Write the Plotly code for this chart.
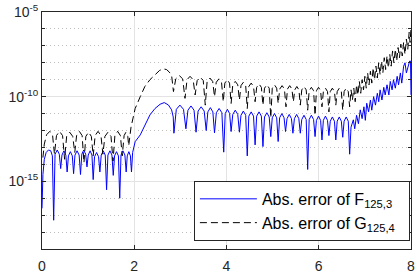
import plotly.graph_objects as go

# Abs. error of F_{125,3}: (x, log10(error))
blue_points = [
    (0.00, -16.6), (0.02, -14.6), (0.05, -13.7), (0.09, -13.3), (0.14, -13.15), (0.19, -13.2), (0.225, -13.5), (0.253, -17.3),
    (0.283, -13.4), (0.33, -13.15), (0.375, -13.4), (0.405, -14.25),
    (0.433, -13.45), (0.475, -13.2), (0.517, -13.45), (0.545, -14.45),
    (0.573, -13.5), (0.615, -13.25), (0.657, -13.5), (0.685, -14.55),
    (0.715, -13.45), (0.76, -13.2), (0.805, -13.45), (0.835, -14.6),
    (0.863, -13.4), (0.905, -13.15), (0.947, -13.4), (0.975, -14.15),
    (1.002, -13.45), (1.043, -13.2), (1.083, -13.45), (1.11, -14.9),
    (1.139, -13.55), (1.183, -13.3), (1.226, -13.55), (1.255, -14.45),
    (1.284, -13.45), (1.328, -13.2), (1.371, -13.45), (1.40, -15.5),
    (1.429, -13.45), (1.473, -13.2), (1.516, -13.45), (1.545, -14.65),
    (1.573, -13.5), (1.615, -13.25), (1.657, -13.5), (1.685, -16.0),
    (1.713, -13.45), (1.755, -13.2), (1.797, -13.45), (1.825, -14.45),
    (1.848, -13.5), (1.883, -13.25), (1.917, -13.5), (1.94, -14.45),
    (1.965, -13.3), (2.02, -12.66), (2.13, -12.26), (2.23, -11.67), (2.34, -11.08), (2.45, -10.70),
    (2.56, -10.45), (2.65, -10.35), (2.74, -10.49), (2.81, -10.78), (2.845, -11.2), (2.86, -12.16),
    (2.912, -10.75), (2.99, -10.5), (3.068, -10.75), (3.12, -11.9),
    (3.164, -10.8), (3.23, -10.55), (3.296, -10.8), (3.34, -12.1),
    (3.384, -10.85), (3.45, -10.6), (3.516, -10.85), (3.56, -12.0),
    (3.596, -10.9), (3.65, -10.65), (3.704, -10.9), (3.74, -12.14),
    (3.78, -10.95), (3.84, -10.7), (3.90, -10.95), (3.94, -13.28),
    (3.972, -11.0), (4.02, -10.75), (4.068, -11.0), (4.10, -12.06),
    (4.136, -11.05), (4.19, -10.8), (4.244, -11.05), (4.28, -12.1),
    (4.314, -11.1), (4.365, -10.85), (4.416, -11.1), (4.45, -13.5),
    (4.484, -11.15), (4.535, -10.9), (4.586, -11.15), (4.62, -12.85),
    (4.654, -11.15), (4.705, -10.9), (4.756, -11.15), (4.79, -12.95),
    (4.824, -11.2), (4.875, -10.95), (4.926, -11.2), (4.96, -12.36),
    (4.992, -11.25), (5.04, -11.0), (5.088, -11.25), (5.12, -12.65),
    (5.152, -11.25), (5.20, -11.0), (5.248, -11.25), (5.28, -12.06),
    (5.312, -11.3), (5.36, -11.05), (5.408, -11.3), (5.44, -12.16),
    (5.472, -11.3), (5.52, -11.05), (5.568, -11.3), (5.60, -12.16),
    (5.632, -11.35), (5.68, -11.1), (5.728, -11.35), (5.76, -14.3),
    (5.792, -11.35), (5.84, -11.1), (5.888, -11.35), (5.92, -12.36),
    (5.95, -11.4), (5.995, -11.15), (6.04, -11.4), (6.07, -12.56),
    (6.10, -11.4), (6.145, -11.15), (6.19, -11.4), (6.22, -12.3),
    (6.25, -11.45), (6.295, -11.2), (6.34, -11.45), (6.37, -12.56),
    (6.40, -11.45), (6.445, -11.2), (6.49, -11.45), (6.52, -12.4),
    (6.55, -11.45), (6.595, -11.2), (6.64, -11.45), (6.67, -13.4),
    (6.70, -11.8), (6.75, -11.37), (6.78, -11.9), (6.82, -11.1), (6.86, -11.6), (6.90, -10.78),
    (6.94, -11.3), (6.98, -10.6), (7.01, -11.4), (7.04, -10.39), (7.08, -10.9), (7.12, -10.2),
    (7.15, -10.8), (7.19, -10.0), (7.23, -10.5), (7.27, -9.8), (7.30, -10.3), (7.33, -9.6),
    (7.37, -10.2), (7.41, -9.45), (7.44, -9.9), (7.48, -9.3), (7.52, -9.9), (7.55, -9.1),
    (7.59, -9.6), (7.62, -9.0), (7.66, -9.5), (7.70, -8.8), (7.73, -9.3), (7.77, -8.6),
    (7.80, -9.2), (7.84, -8.2), (7.87, -8.0), (7.90, -8.6), (7.94, -8.1), (7.97, -7.9),
    (7.99, -7.9), (8.00, -9.9),
]

# Abs. error of G_{125,4}: (x, log10(error))
black_points = [
    (0.02, -13.6), (0.05, -12.8), (0.10, -12.25), (0.17, -12.05), (0.23, -12.3), (0.27, -13.4),
    (0.314, -12.3), (0.38, -12.05), (0.446, -12.3), (0.49, -13.7),
    (0.534, -12.35), (0.60, -12.1), (0.666, -12.35), (0.71, -13.3),
    (0.75, -12.3), (0.81, -12.05), (0.87, -12.3), (0.91, -13.9),
    (0.95, -12.35), (1.01, -12.1), (1.07, -12.35), (1.11, -13.5),
    (1.152, -12.3), (1.215, -12.05), (1.278, -12.3), (1.32, -13.4),
    (1.364, -12.35), (1.43, -12.1), (1.496, -12.35), (1.54, -13.8),
    (1.58, -12.3), (1.64, -12.05), (1.70, -12.3), (1.74, -13.5),
    (1.78, -12.3), (1.82, -12.1), (1.86, -12.35), (1.88, -12.9),
    (1.93, -11.8), (2.02, -10.7), (2.13, -10.0), (2.23, -9.4), (2.34, -9.0), (2.45, -8.7),
    (2.55, -8.45), (2.63, -8.36), (2.70, -8.4), (2.76, -8.55), (2.81, -8.75), (2.85, -9.7),
    (2.90, -8.95), (2.975, -8.75), (3.05, -8.95), (3.10, -10.1),
    (3.144, -9.0), (3.21, -8.8), (3.276, -9.0), (3.32, -9.9),
    (3.364, -9.05), (3.43, -8.85), (3.496, -9.05), (3.54, -10.5),
    (3.58, -9.1), (3.64, -8.9), (3.70, -9.1), (3.74, -10.0),
    (3.778, -9.15), (3.835, -8.95), (3.892, -9.15), (3.93, -10.3),
    (3.964, -9.2), (4.015, -9.0), (4.066, -9.2), (4.10, -10.4),
    (4.136, -9.3), (4.19, -9.1), (4.244, -9.3), (4.28, -10.2),
    (4.314, -9.35), (4.365, -9.15), (4.416, -9.35), (4.45, -10.7),
    (4.484, -9.4), (4.535, -9.2), (4.586, -9.4), (4.62, -10.3),
    (4.654, -9.45), (4.705, -9.25), (4.756, -9.45), (4.79, -10.5),
    (4.824, -9.5), (4.875, -9.3), (4.926, -9.5), (4.96, -11.25),
    (4.992, -9.5), (5.04, -9.3), (5.088, -9.5), (5.12, -10.4),
    (5.154, -9.55), (5.205, -9.35), (5.256, -9.55), (5.29, -10.6),
    (5.322, -9.55), (5.37, -9.35), (5.418, -9.55), (5.45, -10.3),
    (5.48, -9.6), (5.525, -9.4), (5.57, -9.6), (5.60, -10.5),
    (5.632, -9.6), (5.68, -9.4), (5.728, -9.6), (5.76, -10.8),
    (5.792, -9.65), (5.84, -9.45), (5.888, -9.65), (5.92, -11.1),
    (5.95, -9.65), (5.995, -9.45), (6.04, -9.65), (6.07, -10.6),
    (6.10, -9.7), (6.145, -9.5), (6.19, -9.7), (6.22, -10.9),
    (6.25, -9.7), (6.295, -9.5), (6.34, -9.7), (6.37, -10.5),
    (6.40, -9.7), (6.445, -9.5), (6.49, -9.7), (6.52, -10.8),
    (6.55, -9.7), (6.595, -9.5), (6.64, -9.7), (6.67, -10.6),
    (6.70, -9.6), (6.73, -10.2), (6.76, -9.5), (6.79, -10.3), (6.82, -9.3), (6.85, -9.9),
    (6.88, -9.1), (6.91, -9.8), (6.94, -9.0), (6.97, -9.6), (7.00, -8.8), (7.03, -9.5),
    (7.06, -8.6), (7.09, -9.3), (7.12, -8.5), (7.15, -9.2), (7.18, -8.3), (7.21, -9.0),
    (7.24, -8.2), (7.27, -8.9), (7.30, -8.0), (7.33, -8.7), (7.36, -7.9), (7.39, -8.6),
    (7.42, -7.7), (7.45, -8.4), (7.48, -7.6), (7.51, -8.3), (7.54, -7.5), (7.57, -8.2),
    (7.60, -7.3), (7.63, -8.0), (7.66, -7.2), (7.69, -7.9), (7.72, -7.1), (7.75, -7.7),
    (7.78, -6.9), (7.81, -7.6), (7.84, -6.8), (7.87, -7.5), (7.90, -6.6), (7.93, -7.2),
    (7.96, -6.2), (7.98, -6.8), (8.00, -5.95),
]

x_ticks = [0, 2, 4, 6, 8]
y_major_ticks = [1e-15, 1e-10, 1e-5]
y_major_labels = ["10<sup>-15</sup>", "10<sup>-10</sup>", "10<sup>-5</sup>"]
y_minor_ticks = [10.0 ** e for e in range(-19, -4)]

series_names = ["Abs. error of F<sub>125,3</sub>&nbsp;&nbsp;", "Abs. error of G<sub>125,4</sub>&nbsp;&nbsp;"]

blue_x = [p[0] for p in blue_points]
blue_y = [10.0 ** p[1] for p in blue_points]
black_x = [p[0] for p in black_points]
black_y = [10.0 ** p[1] for p in black_points]

FONT = "Liberation Sans, Arial, Helvetica, sans-serif"
AX = "#262626"

fig = go.Figure()
fig.add_trace(go.Scatter(x=blue_x, y=blue_y, mode="lines", name=series_names[0],
                         line=dict(color="#0000ff", width=1)))
fig.add_trace(go.Scatter(x=black_x, y=black_y, mode="lines", name=series_names[1],
                         line=dict(color="#000000", width=1, dash="7px,4px")))

fig.update_layout(
    width=415, height=277,
    margin=dict(l=42, r=4, t=12, b=28, autoexpand=False),
    paper_bgcolor="white", plot_bgcolor="white",
    font=dict(family=FONT, size=14, color=AX),
    showlegend=True,
    legend=dict(x=0.997, y=0.034, xanchor="right", yanchor="bottom",
                bgcolor="white", bordercolor=AX, borderwidth=1,
                font=dict(family=FONT, size=16, color="black"),
                itemwidth=57),
    xaxis=dict(range=[0, 8], tickvals=x_ticks, ticks="inside", ticklen=4, tickcolor=AX,
               showgrid=True, gridcolor="#e3e3e3", gridwidth=1, automargin=False,
               ticklabeloverflow="allow", ticklabelstandoff=4,
               showline=True, linecolor=AX, linewidth=1, mirror="ticks",
               zeroline=False, tickfont=dict(size=14, color=AX)),
    yaxis=dict(type="log", range=[-19, -5], tickvals=y_major_ticks, ticktext=y_major_labels,
               ticks="inside", ticklen=4, tickcolor=AX, automargin=False,
               ticklabeloverflow="allow",
               showgrid=True, gridcolor="#e3e3e3", gridwidth=1,
               showline=True, linecolor=AX, linewidth=1, mirror="ticks",
               zeroline=False, tickfont=dict(size=14, color=AX),
               minor=dict(tickvals=y_minor_ticks, ticks="inside", ticklen=3, tickcolor=AX,
                          showgrid=True, gridcolor="#bdbdbd", griddash="1px,3px", gridwidth=1)),
)

fig.write_html("out.html", config={"displayModeBar": False},
               post_script="document.body.style.margin='0px';")
